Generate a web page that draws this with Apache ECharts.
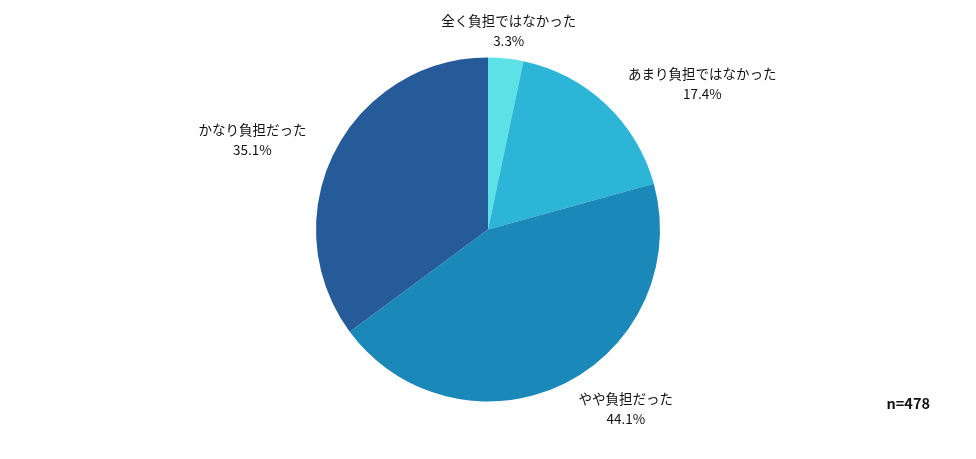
<!DOCTYPE html>
<html><head><meta charset="utf-8">
<script src="https://cdn.jsdelivr.net/npm/echarts@6/dist/echarts.min.js"></script>
<style>html,body{margin:0;padding:0;background:#fff}#c{width:976px;height:459px}</style>
</head><body><div id="c"></div>
<script>
const categories = ['全く負担ではなかった', 'あまり負担ではなかった', 'やや負担だった', 'かなり負担だった'];
const values = [3.3, 17.4, 44.1, 35.1];
const colors = ['#5ce1e6', '#2cb5d6', '#1a89ba', '#265b99'];
const note = 'n=478';

const W = 976, H = 459;
const cx = W / 2, cy = H / 2, R = 172, labelR = 200;
const total = values.reduce((a, b) => a + b, 0);
const mids = [];
let acc = 0;
values.forEach(v => { mids.push((acc + v / 2) / total * Math.PI * 2); acc += v; });

const FONT = '"Noto Sans CJK JP", "Noto Sans", sans-serif';
const chart = echarts.init(document.getElementById('c'));
chart.setOption({
  animation: false,
  color: colors,
  textStyle: { fontFamily: FONT },
  graphic: [{
    type: 'text', right: 46, top: 396,
    style: { text: note, fontSize: 14.5, fontWeight: 'bold', fill: '#111', fontFamily: FONT }
  }],
  series: [{
    type: 'pie',
    center: ['50%', '50%'],
    radius: R,
    startAngle: 90,
    clockwise: true,
    data: categories.map((n, i) => ({ name: n, value: values[i] })),
    label: {
      show: true,
      position: 'outside',
      formatter: p => p.name + '\n' + p.value.toFixed(1) + '%',
      fontSize: 13.5,
      lineHeight: 20,
      color: '#111'
    },
    labelLine: { show: false, length: 28, length2: 0 },
    itemStyle: { borderWidth: 0 },
    emphasis: { disabled: true },
    labelLayout: function (p) {
      const a = mids[p.dataIndex];
      const dx = Math.sin(a), dy = -Math.cos(a);
      const x2 = cx + dx * labelR, y2 = cy + dy * labelR;
      const w = p.labelRect.width;
      let x = x2;
      if (Math.abs(dx) > 0.2) x = x2 + (dx > 0 ? 1 : -1) * (w / 2 + 3);
      return { x: x, y: y2, align: 'center', verticalAlign: 'middle' };
    }
  }]
});
</script></body></html>
